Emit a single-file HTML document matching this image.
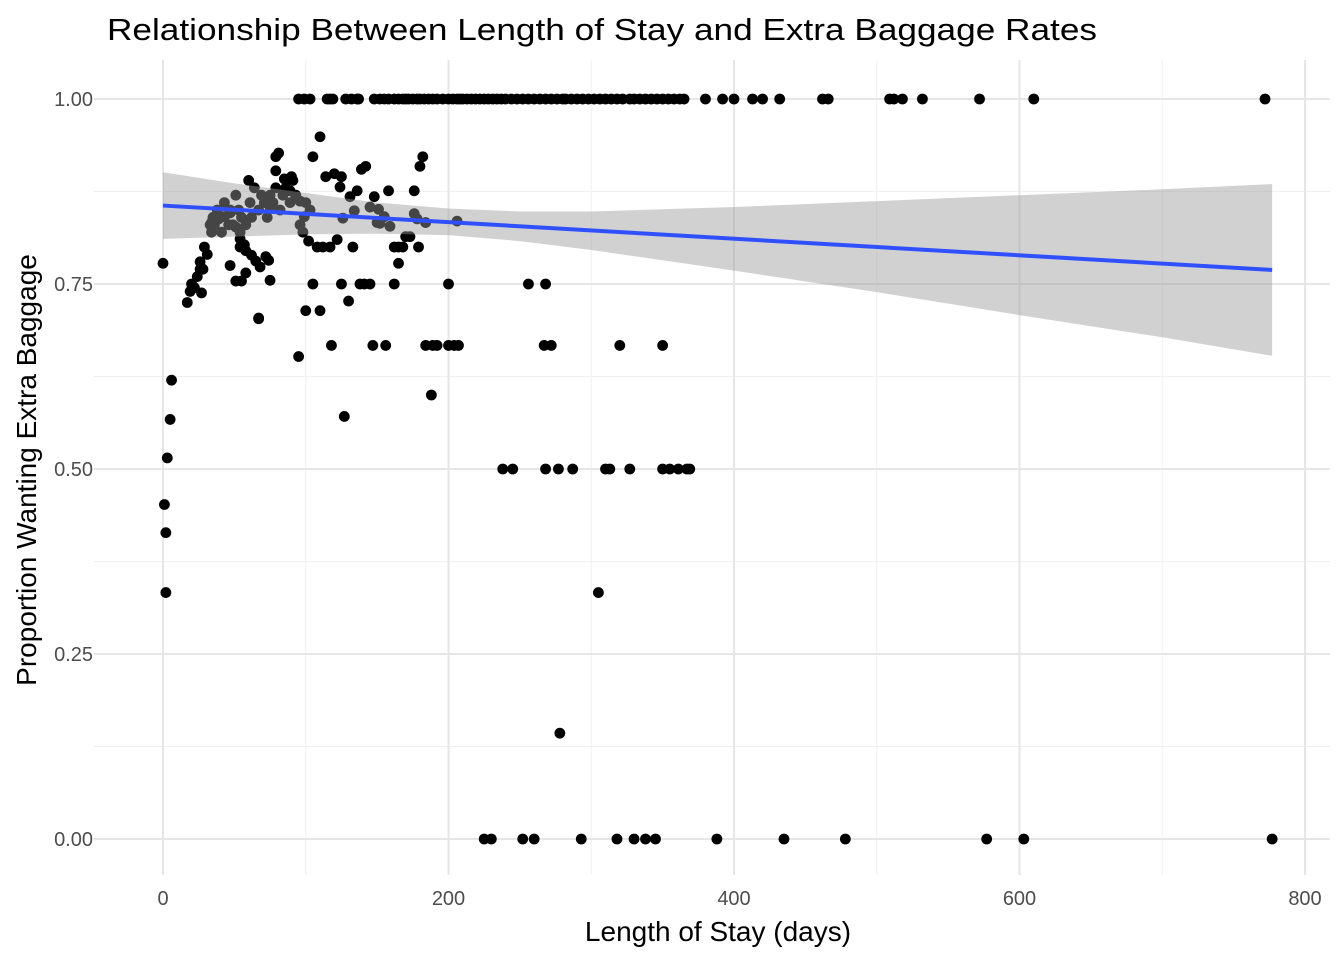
<!DOCTYPE html>
<html><head><meta charset="utf-8"><style>
body{margin:0;background:#fff;font-family:"Liberation Sans",Arial,sans-serif}
svg text{font-family:"Liberation Sans",Arial,sans-serif}
</style></head><body>
<svg id="chart" width="1344" height="960">
<text x="107" y="40" font-size="31" textLength="990" lengthAdjust="spacingAndGlyphs" fill="#000">Relationship Between Length of Stay and Extra Baggage Rates</text>
<g id="grid"></g><g id="pts"></g><g id="band"></g><g id="fit"></g><g id="axes"></g>
<text x="718" y="941" font-size="28" text-anchor="middle" fill="#000">Length of Stay (days)</text>
<text transform="translate(36,470) rotate(-90)" font-size="28" text-anchor="middle" fill="#000">Proportion Wanting Extra Baggage</text>
</svg>
<script>
const xTicks=[0,200,400,600,800];
const yTicks=[0,0.25,0.5,0.75,1.0];
const yTickLabels=["0.00","0.25","0.50","0.75","1.00"];
const onesX=[95,99,103,115,117,119,128,132,136,137,148,152,155,158,162,165,168,170,172,175,178,180,183,186,189,192,196,200,203,206,208,210,213,216,219,222,225,228,231,234,237,240,244,248,252,256,260,264,268,272,276,280,282,286,290,294,298,302,306,310,314,318,322,327,330,334,338,342,346,350,354,358,362,365,380,392,400,413,420,432,462,466,509,512,518,532,572,610,772];
const zerosX=[225,230,252,260,293,318,330,338,345,388,435,478,577,603,777];
const halfX=[238,245,268,277,287,310,313,327,350,355,361,367,369];
const twoThirdsX=[147,156,184,189,192,200,204,207,267,272,320,350];
const otherX=[17,19,20,22,24,26,27,29,26,28,31,33,34,35,36,38,40,41,43,46,47,49,51,53,54,55,58,60,61,62,64,67,69,71,73,75,77,79,82,84,86,89,91,93,96,98,100,103,34,39,43,47,51,54,57,47,54,58,62,65,68,51,58,67,72,75,79,81,79,85,89,90,96,99,102,105,110,114,120,124,126,125,131,134,136,139,142,145,148,151,152,155,159,158,162,165,168,170,176,180,182,173,176,179,184,206,178,0,1,2,2,3,5,6,305,278,188,127,95,67,130,55,75,74,165,125,138,141,145,162,200,256,268,100,110,105,118,112,108,133,150,117,122];
const otherY=[.725,.74,.75,.745,.76,.77,.738,.80,.78,.77,.79,.83,.82,.84,.83,.85,.84,.82,.86,.83,.85,.83,.87,.85,.82,.84,.83,.89,.86,.84,.88,.85,.87,.86,.84,.87,.86,.88,.85,.87,.88,.86,.89,.87,.83,.82,.86,.85,.833,.838,.841,.846,.827,.811,.803,.775,.800,.795,.789,.781,.773,.754,.765,.703,.787,.854,.922,.927,.903,.892,.876,.895,.862,.841,.808,.922,.949,.895,.899,.881,.839,.895,.868,.849,.876,.905,.909,.854,.868,.851,.832,.841,.828,.876,.800,.800,.800,.814,.876,.909,.922,.814,.845,.800,.833,.835,.838,.778,.452,.414,.333,.515,.567,.620,.333,.143,.600,.571,.652,.704,.727,.754,.755,.782,.778,.75,.75,.75,.75,.75,.75,.75,.75,.714,.714,.75,.667,.8,.8,.8,.833,.8,.81];
const fitX=[0,777];
const fitY=[0.856,0.769];
const bandX=[0,50,100,150,200,250,300,400,500,600,700,777];
const bandLo=[0.811,0.814,0.817,0.818,0.816,0.808,0.796,0.768,0.739,0.708,0.678,0.653];
const bandHi=[0.901,0.886,0.873,0.860,0.852,0.848,0.848,0.854,0.862,0.870,0.878,0.885];

const NS="http://www.w3.org/2000/svg";
const X=v=>163+v*1.4275, Y=v=>839-v*740;
function mk(tag,parent,attrs){const e=document.createElementNS(NS,tag);for(const k in attrs)e.setAttribute(k,attrs[k]);document.getElementById(parent).appendChild(e);return e;}
const L=94,R=1330,T=60,B=875;
for(let i=0;i<xTicks.length-1;i++){const e=mk('line','grid',{x1:X((xTicks[i]+xTicks[i+1])/2),x2:X((xTicks[i]+xTicks[i+1])/2),y1:T,y2:B,stroke:'#f0f0f0','stroke-width':1});

}
for(let i=0;i<yTicks.length-1;i++){const e=mk('line','grid',{x1:L,x2:R,y1:Y((yTicks[i]+yTicks[i+1])/2),y2:Y((yTicks[i]+yTicks[i+1])/2),stroke:'#f0f0f0','stroke-width':1});

}
xTicks.forEach(t=>{const e=mk('line','grid',{x1:X(t),x2:X(t),y1:T,y2:B,stroke:'#e6e6e6','stroke-width':2});


const s=mk('text','axes',{x:X(t),y:905,'font-size':20,'text-anchor':'middle',fill:'#4d4d4d'});s.textContent=t;

});
yTicks.forEach((t,i)=>{const e=mk('line','grid',{x1:L,x2:R,y1:Y(t),y2:Y(t),stroke:'#e6e6e6','stroke-width':2});


const s=mk('text','axes',{x:93,y:Y(t)+7,'font-size':20,'text-anchor':'end',fill:'#4d4d4d'});s.textContent=yTickLabels[i];

});
function pt(x,y){const c=mk('circle','pts',{cx:X(x),cy:Y(y),r:5.4,fill:'#000'});

}
onesX.forEach(x=>pt(x,1));zerosX.forEach(x=>pt(x,0));halfX.forEach(x=>pt(x,0.5));twoThirdsX.forEach(x=>pt(x,0.667));
otherX.forEach((x,i)=>pt(x,otherY[i]));
let d='';bandX.forEach((v,i)=>d+=(i?'L':'M')+X(v)+','+Y(bandHi[i]));
for(let i=bandX.length-1;i>=0;i--)d+='L'+X(bandX[i])+','+Y(bandLo[i]);
const band=mk('path','band',{d:d+'Z',fill:'#999','fill-opacity':0.45});


const fl=mk('line','fit',{x1:X(fitX[0]),y1:Y(fitY[0]),x2:X(fitX[1]),y2:Y(fitY[1]),stroke:'#3050ff','stroke-width':4});


</script>
</body></html>
